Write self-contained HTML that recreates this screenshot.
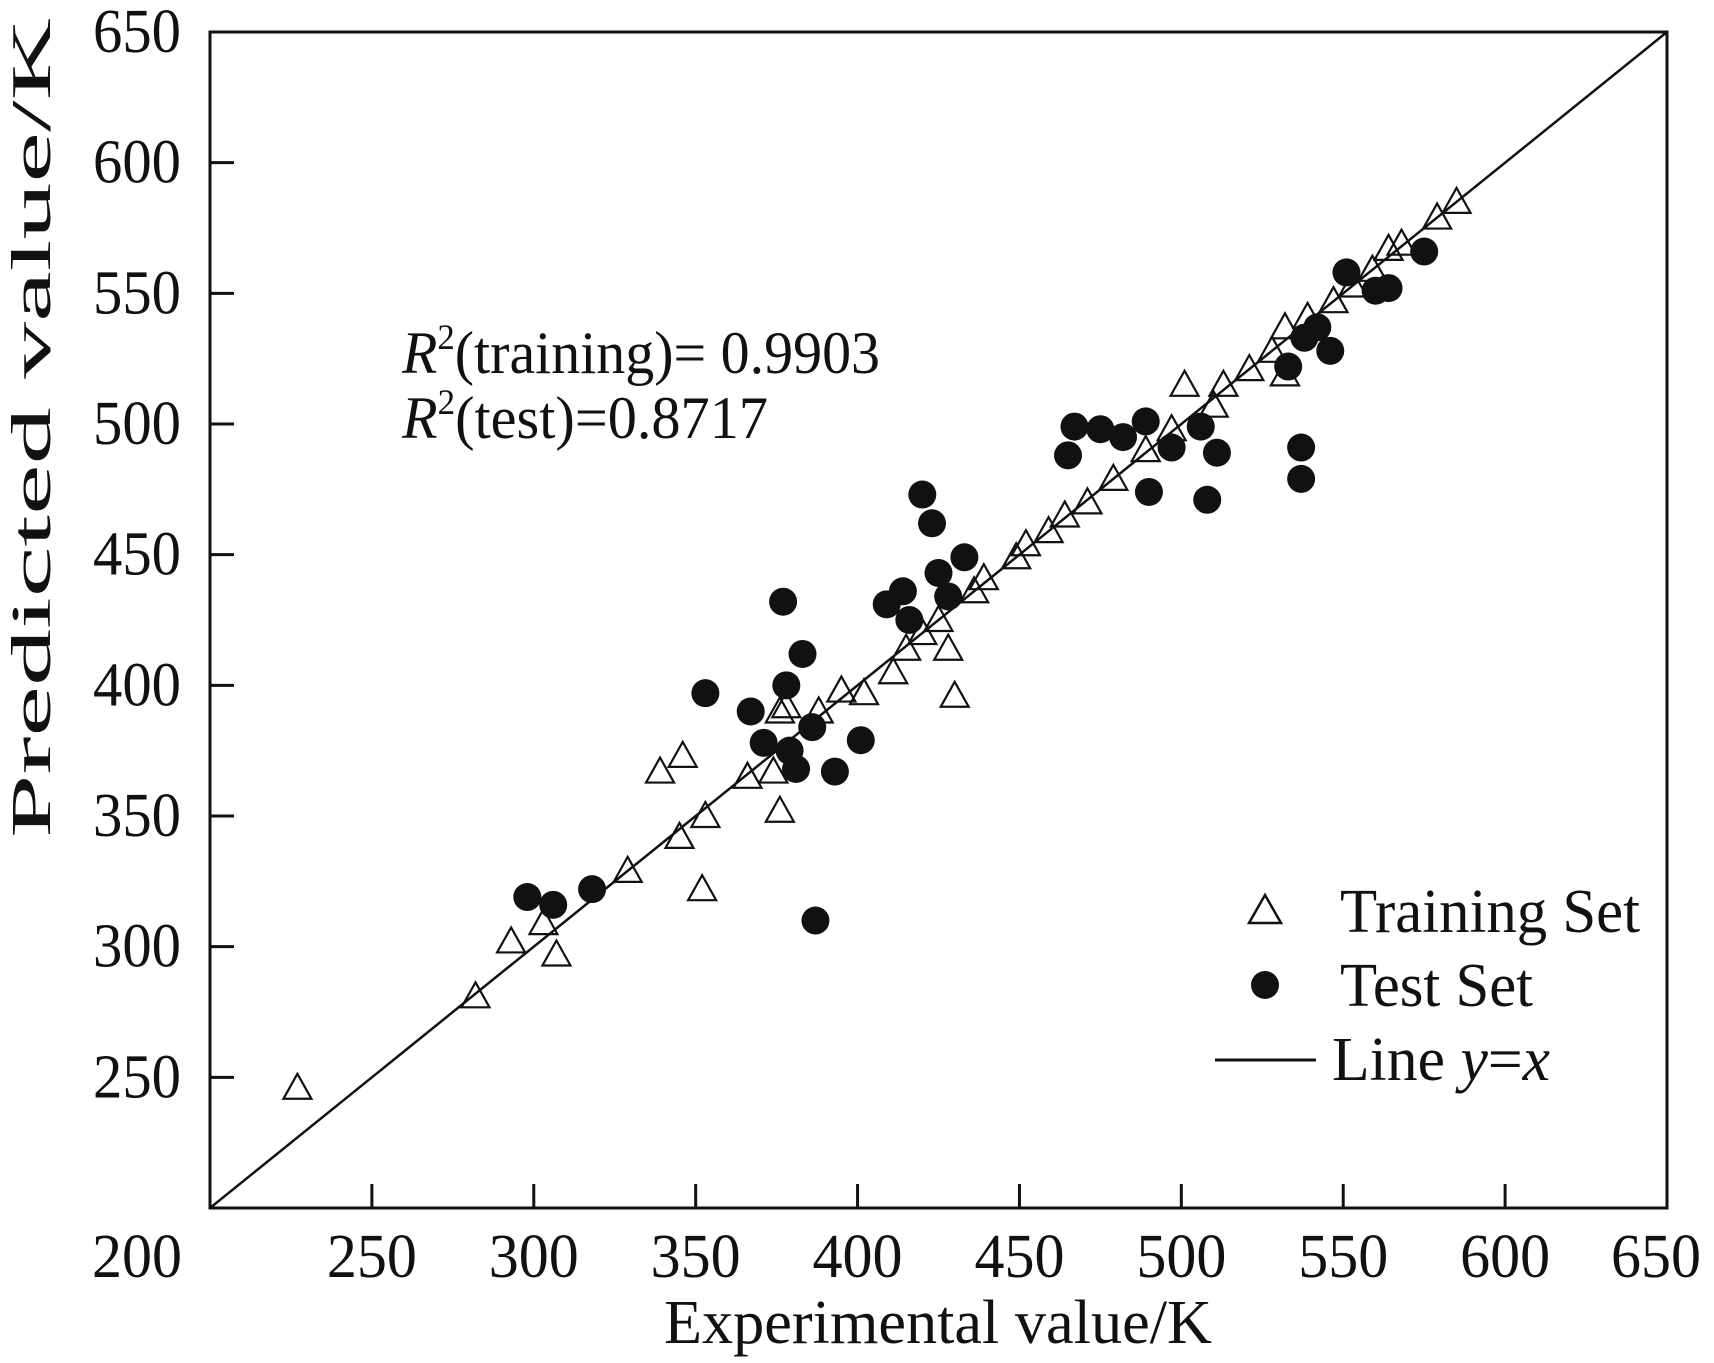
<!DOCTYPE html>
<html><head><meta charset="utf-8"><style>
html,body{margin:0;padding:0;background:#fff;}
svg{display:block;font-family:"Liberation Serif",serif;}
</style></head><body>
<svg id="chart" width="1714" height="1363" viewBox="0 0 1714 1363" xmlns="http://www.w3.org/2000/svg">
<rect x="0" y="0" width="1714" height="1363" fill="#fff"/>
<g id="marks"></g>
<g id="axes"></g>
<text x="402" y="373" font-size="60" textLength="478" lengthAdjust="spacingAndGlyphs" fill="#111"><tspan font-style="italic">R</tspan><tspan font-size="36" dy="-24">2</tspan><tspan dy="24">(training)= 0.9903</tspan></text>
<text x="402" y="438" font-size="60" textLength="366" lengthAdjust="spacingAndGlyphs" fill="#111"><tspan font-style="italic">R</tspan><tspan font-size="36" dy="-24">2</tspan><tspan dy="24">(test)=0.8717</tspan></text>
<g>
<polygon points="1265,895 1281,923 1249,923" fill="#fff" stroke="#111" stroke-width="2.5"/>
<text x="1340" y="932" font-size="62" textLength="300" lengthAdjust="spacingAndGlyphs" fill="#111">Training Set</text>
<circle cx="1265" cy="985" r="14" fill="#111"/>
<text x="1340" y="1006" font-size="62" textLength="193" lengthAdjust="spacingAndGlyphs" fill="#111">Test Set</text>
<line x1="1215" y1="1060" x2="1316" y2="1060" stroke="#111" stroke-width="3"/>
<text x="1332" y="1080" font-size="62" textLength="218" lengthAdjust="spacingAndGlyphs" fill="#111">Line <tspan font-style="italic">y</tspan>=<tspan font-style="italic">x</tspan></text>
</g>
<text x="938" y="1343" font-size="62" text-anchor="middle" textLength="548" lengthAdjust="spacingAndGlyphs" fill="#111">Experimental value/K</text>
<text transform="translate(50,428) rotate(-90)" font-size="56" text-anchor="middle" textLength="820" lengthAdjust="spacingAndGlyphs" fill="#111">Predicted value/K</text>
</svg>
<script>
const xTicks = [200,250,300,350,400,450,500,550,600,650];
const yTicks = [250,300,350,400,450,500,550,600,650];
const trainX = [227,282,293,303,307,329,352,339,346,345,353,366,374,376,376,378,388,395,402,411,415,420,425,428,430,436,439,449,452,459,464,471,479,489,497,501,510,513,521,528,532,532,539,547,553,559,564,568,579,585];
const trainY = [246,281,302,309,297,329,322,367,373,342,350,365,367,352,390,392,390,398,397,405,414,420,425,414,396,436,441,449,454,459,465,470,479,490,498,515,507,515,521,528,537,519,541,547,553,559,567,569,579,585];
const testX = [298,306,318,387,353,367,371,377,378,383,379,381,386,393,401,409,414,416,420,423,425,428,433,465,467,475,482,489,490,497,506,508,511,533,537,537,538,542,546,551,560,564,575];
const testY = [319,316,322,310,397,390,378,432,400,412,375,368,384,367,379,431,436,425,473,462,443,434,449,488,499,498,495,501,474,491,499,471,489,522,491,479,533,537,528,558,551,552,566];

const NS = "http://www.w3.org/2000/svg";
const L = 210, R = 1667, T = 32, B = 1208, MIN = 200, MAX = 650;
function sx(v){ return L + (v - MIN) / (MAX - MIN) * (R - L); }
function sy(v){ return B - (v - MIN) / (MAX - MIN) * (B - T); }
function mk(tag, attrs, parent){ const e = document.createElementNS(NS, tag); for (const k in attrs) e.setAttribute(k, attrs[k]); parent.appendChild(e); return e; }

const marks = document.getElementById('marks');
const axes = document.getElementById('axes');

const diag = mk('line', {x1: sx(200), y1: sy(200), x2: sx(650), y2: sy(650), stroke: '#111', 'stroke-width': 2.5}, marks);



for (let i = 0; i < trainX.length; i++) {
  const cx = sx(trainX[i]), cy = sy(trainY[i]);
  const p = mk('polygon', {points: `${cx},${cy-14} ${cx+14},${cy+11} ${cx-14},${cy+11}`, fill: '#fff', 'fill-opacity': 0, stroke: '#111', 'stroke-width': 2.2}, marks);
  
  
}
for (let i = 0; i < testX.length; i++) {
  const c = mk('circle', {cx: sx(testX[i]), cy: sy(testY[i]), r: 14, fill: '#111'}, marks);
  
  
}

const frame = mk('rect', {x: L, y: T, width: R - L, height: B - T, fill: 'none', stroke: '#111', 'stroke-width': 3}, axes);



xTicks.forEach(v => {
  let x = sx(v);
  if (v > MIN && v < MAX) {
    const t = mk('line', {x1: x, y1: B, x2: x, y2: B - 24, stroke: '#111', 'stroke-width': 3}, axes);
    
    
  }
  if (v === MIN) x -= 73;
  if (v === MAX) x -= 11;
  const lb = mk('text', {x: x, y: 1277, 'font-size': 62, 'text-anchor': 'middle', textLength: 90, lengthAdjust: 'spacingAndGlyphs', fill: '#111'}, axes);
  lb.textContent = v;
  
  
});
yTicks.forEach(v => {
  const y = sy(v);
  if (v < MAX) {
    const t = mk('line', {x1: L, y1: y, x2: L + 24, y2: y, stroke: '#111', 'stroke-width': 3}, axes);
    
    
  }
  const lb = mk('text', {x: 181, y: y + 20, 'font-size': 62, 'text-anchor': 'end', textLength: 88, lengthAdjust: 'spacingAndGlyphs', fill: '#111'}, axes);
  lb.textContent = v;
  
  
});
</script>
</body></html>
